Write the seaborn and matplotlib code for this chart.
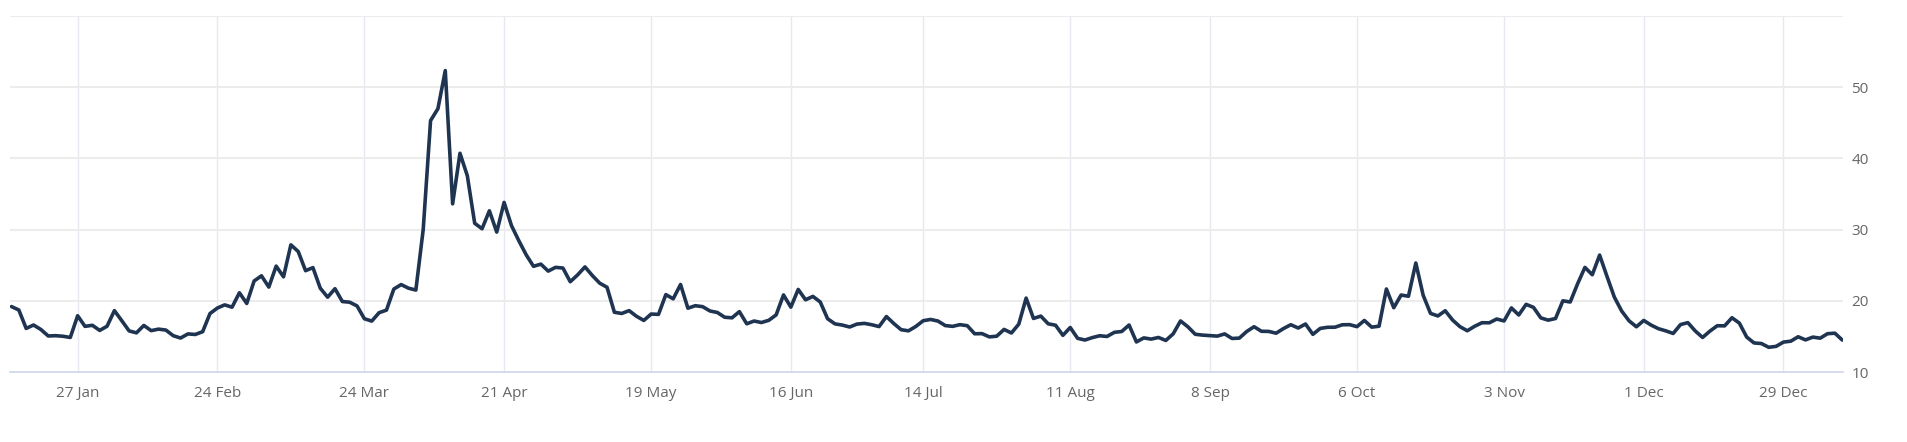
import pandas as pd
import seaborn as sns
import matplotlib
matplotlib.use("Agg")
import matplotlib.pyplot as plt

# daily closes, one list per month (trading days only)
jan25 = [19.19, 18.71, 16.12, 16.60, 15.97, 15.06, 15.10, 15.02, 14.85, 17.90,
         16.41, 16.56, 15.84, 16.43]
feb25 = [18.62, 17.21, 15.77, 15.50, 16.54, 15.81, 16.02, 15.89, 15.10, 14.77,
         15.35, 15.27, 15.66, 18.21, 18.98, 19.43, 19.10, 21.13, 19.63]
mar25 = [22.78, 23.51, 21.93, 24.87, 23.37, 27.86, 26.92, 24.23, 24.66, 21.77,
         20.51, 21.70, 19.90, 19.80, 19.28, 17.48, 17.15, 18.33, 18.69, 21.65, 22.28]
apr25 = [21.77, 21.51, 30.02, 45.31, 46.98, 52.33, 33.62, 40.72, 37.56, 30.89,
         30.12, 32.64, 29.65, 33.82, 30.57, 28.45, 26.47, 24.84, 25.15, 24.17, 24.70]
may25 = [24.60, 22.68, 23.64, 24.76, 23.55, 22.48, 21.90, 18.39, 18.22, 18.62,
         17.83, 17.24, 18.14, 18.09, 20.87, 20.28, 22.29, 18.96, 19.31, 19.18, 18.57]
jun25 = [18.36, 17.69, 17.61, 18.48, 16.77, 17.16, 16.95, 17.26, 18.02, 20.82,
         19.11, 21.60, 20.14, 20.62, 19.83, 17.48, 16.76, 16.59, 16.32, 16.73]
jul25 = [16.83, 16.64, 16.38, 17.79, 16.81, 15.94, 15.78, 16.40, 17.20, 17.38,
         17.16, 16.52, 16.41, 16.65, 16.50, 15.37, 15.39, 14.93, 15.03, 15.98,
         15.48, 16.72]
aug25 = [20.38, 17.52, 17.85, 16.77, 16.57, 15.15, 16.25, 14.73, 14.49, 14.83,
         15.09, 14.99, 15.57, 15.69, 16.60, 14.22, 14.79, 14.62, 14.85, 14.43, 15.36]
sep25 = [17.17, 16.35, 15.30, 15.18, 15.11, 15.04, 15.35, 14.71, 14.76, 15.69,
         16.36, 15.72, 15.70, 15.45, 16.10, 16.64, 16.18, 16.74, 15.29, 16.12, 16.28]
oct25 = [16.29, 16.63, 16.65, 16.37, 17.24, 16.30, 16.43, 21.66, 19.03, 20.81,
         20.64, 25.31, 20.78, 18.23, 17.87, 18.60, 17.30, 16.37, 15.79, 16.42,
         16.92, 16.91, 17.44]
nov25 = [17.17, 19.00, 18.01, 19.50, 19.08, 17.60, 17.28, 17.51, 20.00, 19.83,
         22.38, 24.69, 23.66, 26.42, 23.43, 20.52, 18.56, 17.19, 16.35]
dec25 = [17.24, 16.59, 16.08, 15.78, 15.41, 16.66, 16.93, 15.77, 14.85, 15.74,
         16.50, 16.48, 17.62, 16.87, 14.91, 14.08, 14.00, 13.47, 13.60, 14.20,
         14.33, 14.95]
jan26 = [14.51, 14.90, 14.75, 15.38, 15.45, 14.49]

holidays = ["2025-01-20", "2025-02-17", "2025-04-18", "2025-05-26", "2025-06-19",
            "2025-07-04", "2025-09-01", "2025-11-27", "2025-12-25", "2026-01-01"]
tick_dates = ["2025-01-27", "2025-02-24", "2025-03-24", "2025-04-21", "2025-05-19",
              "2025-06-16", "2025-07-14", "2025-08-11", "2025-09-08", "2025-10-06",
              "2025-11-03", "2025-12-01", "2025-12-29"]
y_ticks = [10, 20, 30, 40, 50, 60]

values = (jan25 + feb25 + mar25 + apr25 + may25 + jun25 + jul25 + aug25 + sep25
          + oct25 + nov25 + dec25 + jan26)
dates = pd.bdate_range("2025-01-13", "2026-01-09")
dates = dates[~dates.isin(pd.to_datetime(holidays))]
df = pd.DataFrame({"date": dates, "value": values})
df["pos"] = range(len(df))  # ordinal axis: one step per trading day

sns.set_style("white")
plt.rcParams["font.family"] = ["Open Sans", "DejaVu Sans"]

fig = plt.figure(figsize=(19.08, 4.42), dpi=100)
ax = fig.add_axes([10 / 1908, 1 - 372 / 442, 1833 / 1908, 356 / 442])

sns.lineplot(data=df, x="pos", y="value", ax=ax, color="#1f3451", linewidth=2.6)

ax.set_xlim(-0.2, len(df) - 0.9)
ax.set_ylim(10, 60)

tick_pos = [df.index[df["date"] == pd.Timestamp(d)][0] for d in tick_dates]
tick_lab = [f"{pd.Timestamp(d).day} {pd.Timestamp(d):%b}" for d in tick_dates]
ax.set_xticks(tick_pos)
ax.set_xticklabels(tick_lab)
ax.set_yticks(y_ticks)
ax.set_yticklabels(["10", "20", "30", "40", "50", ""])

ax.yaxis.tick_right()
ax.tick_params(axis="y", length=0, pad=6, labelsize=11, labelcolor="#666666")
ax.tick_params(axis="x", length=8, width=1, color="#ccd6eb", pad=2,
               labelsize=11, labelcolor="#666666")

for x in tick_pos:
    ax.axvline(x, color="#e6e9f0", linewidth=1, zorder=0)
for y in y_ticks[1:]:
    ax.axhline(y, color="#ececec", linewidth=1.5, zorder=0)

for side in ["top", "left", "right"]:
    ax.spines[side].set_visible(False)
ax.spines["bottom"].set_color("#ccd6eb")
ax.spines["bottom"].set_linewidth(1.2)

ax.set_xlabel("")
ax.set_ylabel("")

fig.savefig("out.png", dpi=100)
